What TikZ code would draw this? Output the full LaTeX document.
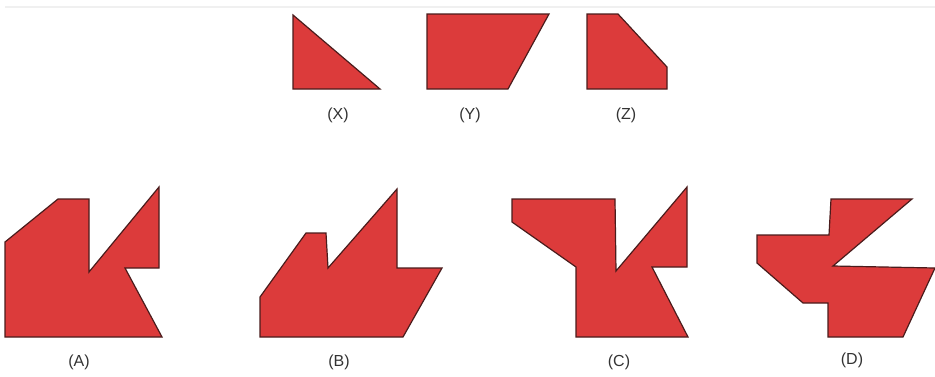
\documentclass[tikz,border=0pt]{standalone}
\usepackage{fontspec}
\setmainfont{Liberation Sans}
\definecolor{figRed}{HTML}{DC3B3B}
\definecolor{figEdge}{HTML}{4A1C1C}
\definecolor{figText}{HTML}{333333}
\definecolor{figRule}{HTML}{F0F0F0}
\tikzset{
  piece/.style={fill=figRed, draw=figEdge, line width=1.2pt, line join=miter},
  tag/.style={font=\fontsize{16}{18}\selectfont, text=figText, inner sep=0pt}
}

\begin{document}
\begin{tikzpicture}[x=1pt, y=-1pt]
  \useasboundingbox (0,0) rectangle (935,376);
  \draw[figRule, line width=1.5pt] (5,7) -- (935,7);

  % question figures
  \draw[piece] (293,15) -- (293,89) -- (380,89) -- cycle;
  \draw[piece] (427,14) -- (549,14) -- (508,89) -- (427,89) -- cycle;
  \draw[piece] (587,14) -- (618,14) -- (667,67) -- (667,89) -- (587,89) -- cycle;
  \node[tag] (tagX) at (338,115) {(X)};
  \node[tag] (tagY) at (470,115) {(Y)};
  \node[tag] (tagZ) at (626,115) {(Z)};

  % answer figures
  \draw[piece] (5,242) -- (58,199) -- (89,199) -- (89,272) -- (159,187)
    -- (159,268) -- (125,268) -- (162,337) -- (5,337) -- cycle;
  \draw[piece] (260,297) -- (306,233) -- (326,233) -- (328,268) -- (397,189)
    -- (397,268) -- (442,268) -- (403,337) -- (260,337) -- cycle;
  \draw[piece] (512,199) -- (615,199) -- (616,271) -- (687,187) -- (687,267)
    -- (652,267) -- (688,337) -- (576,337) -- (576,267) -- (512,222) -- cycle;
  \draw[piece] (831,199) -- (912,199) -- (833,266) -- (935,268) -- (903,337)
    -- (828,337) -- (828,303) -- (803,303) -- (757,263) -- (757,235)
    -- (829,235) -- cycle;
  \node[tag] (tagA) at (79,362) {(A)};
  \node[tag] (tagB) at (339,362) {(B)};
  \node[tag] (tagC) at (619,362) {(C)};
  \node[tag] (tagD) at (852,360) {(D)};
\end{tikzpicture}
\end{document}
